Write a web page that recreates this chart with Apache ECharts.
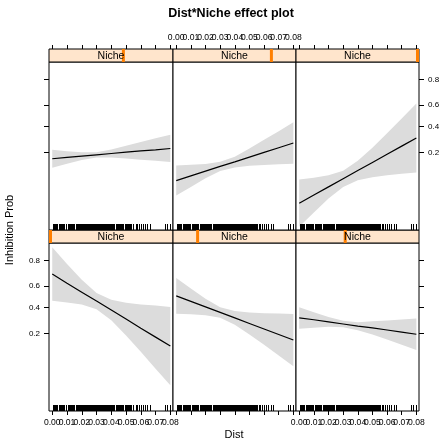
<!DOCTYPE html>
<html>
<head>
<meta charset="utf-8">
<script src="https://cdn.jsdelivr.net/npm/echarts@6/dist/echarts.min.js"></script>
<style>
  html, body { margin: 0; padding: 0; background: #fff; }
  #chart { width: 443px; height: 448px; }
</style>
</head>
<body>
<div id="chart"></div>
<script>
// Dist values at which the effect is evaluated
const distGrid = [0, 0.01, 0.02, 0.03, 0.04, 0.05, 0.06, 0.07, 0.08];

// Fitted effect and 95% band on the logit (link) scale, one set per Niche level
const fit1   = [0.87, 0.52, 0.18, -0.16, -0.50, -0.84, -1.19, -1.53, -1.87];
const lower1 = [-0.15, -0.21, -0.29, -0.47, -0.89, -1.47, -2.09, -2.73, -3.36];
const upper1 = [1.89, 1.25, 0.65, 0.15, -0.11, -0.22, -0.29, -0.33, -0.38];

const fit2   = [0.04, -0.17, -0.38, -0.59, -0.80, -1.01, -1.22, -1.43, -1.64];
const lower2 = [-0.64, -0.66, -0.70, -0.79, -1.06, -1.43, -1.82, -2.23, -2.64];
const upper2 = [0.72, 0.32, -0.07, -0.39, -0.54, -0.59, -0.62, -0.63, -0.65];

const fit3   = [-0.80, -0.87, -0.95, -1.03, -1.11, -1.18, -1.26, -1.34, -1.42];
const lower3 = [-1.21, -1.17, -1.14, -1.15, -1.27, -1.43, -1.62, -1.82, -2.02];
const upper3 = [-0.39, -0.58, -0.76, -0.91, -0.96, -0.93, -0.90, -0.86, -0.82];

const fit4   = [-1.63, -1.58, -1.53, -1.48, -1.43, -1.38, -1.33, -1.29, -1.24];
const lower4 = [-1.97, -1.82, -1.68, -1.58, -1.58, -1.62, -1.67, -1.71, -1.75];
const upper4 = [-1.29, -1.34, -1.38, -1.38, -1.28, -1.14, -0.99, -0.85, -0.72];

const fit5   = [-2.46, -2.28, -2.10, -1.92, -1.75, -1.57, -1.39, -1.21, -1.03];
const lower5 = [-3.03, -2.70, -2.37, -2.10, -1.96, -1.90, -1.87, -1.84, -1.82];
const upper5 = [-1.89, -1.86, -1.83, -1.74, -1.55, -1.24, -0.91, -0.58, -0.24];

const fit6   = [-3.32, -3.01, -2.70, -2.39, -2.08, -1.77, -1.46, -1.15, -0.84];
const lower6 = [-4.22, -3.67, -3.14, -2.70, -2.45, -2.33, -2.26, -2.20, -2.15];
const upper6 = [-2.42, -2.35, -2.26, -2.09, -1.71, -1.21, -0.66, -0.10, 0.47];

// Niche level of each panel, as a fraction of the Niche range (shown in the strip)
const nicheLevels = [0, 0.2, 0.4, 0.6, 0.8, 1.0];

// Observed Dist values (rug)
const distRug = [0.0005, 0.001, 0.002, 0.0025, 0.003, 0.0035, 0.0045, 0.005, 0.006, 0.0065,
  0.0075, 0.008, 0.009, 0.0095, 0.0105, 0.011, 0.0115, 0.012, 0.0125, 0.013, 0.0135, 0.014,
  0.0145, 0.015, 0.016, 0.0165, 0.017, 0.0175, 0.018, 0.0185, 0.019, 0.0195, 0.020, 0.0205,
  0.021, 0.0215, 0.022, 0.0225, 0.023, 0.0235, 0.024, 0.025, 0.0255, 0.026, 0.0265, 0.027,
  0.0275, 0.028, 0.0285, 0.029, 0.0295, 0.030, 0.0305, 0.031, 0.0315, 0.032, 0.0325, 0.033,
  0.034, 0.0345, 0.035, 0.0355, 0.036, 0.0365, 0.037, 0.0375, 0.038, 0.0385, 0.039, 0.0395,
  0.040, 0.0405, 0.041, 0.0415, 0.042, 0.043, 0.0435, 0.044, 0.0445, 0.045, 0.0455, 0.046,
  0.0465, 0.047, 0.0475, 0.048, 0.049, 0.0495, 0.050, 0.0505, 0.051, 0.0515, 0.052, 0.0525,
  0.053, 0.0535, 0.0545, 0.055, 0.0565, 0.0575, 0.0585, 0.060, 0.0615, 0.063, 0.0645, 0.066,
  0.0765, 0.0775, 0.0795];

// Axis ticks
const distTicks = [0, 0.01, 0.02, 0.03, 0.04, 0.05, 0.06, 0.07, 0.08];
const probTicks = [0.2, 0.4, 0.6, 0.8];

const fits = [fit1, fit2, fit3, fit4, fit5, fit6];
const lowers = [lower1, lower2, lower3, lower4, lower5, lower6];
const uppers = [upper1, upper2, upper3, upper4, upper5, upper6];

const FONT = '"Liberation Sans", Arial, Helvetica, sans-serif';
const logit = p => Math.log(p / (1 - p));
const invLogit = v => 1 / (1 + Math.exp(-v));

// Panel layout (lattice style: panel 1 is bottom-left)
const colLeft = [49, 173, 296];
const colWidth = [124, 123, 123];
const stripTop = [230, 49];   // bottom row, top row
const stripH = 13;
const plotH = 168;
const X_MIN = -0.0022, X_MAX = 0.0818;
const Y_MIN = -4.34, Y_MAX = 2.05;
const yTickVals = probTicks.map(logit);
// Dist tick labels are split over two axes so that neighbouring labels may touch
const evenTicks = distTicks.filter((d, k) => k % 2 === 0);
const oddTicks = distTicks.filter((d, k) => k % 2 === 1);

const grid = [], xAxis = [], yAxis = [], series = [], graphic = [];

for (let i = 0; i < 6; i++) {
  const row = i < 3 ? 0 : 1;        // 0 = bottom, 1 = top
  const col = i % 3;
  const left = colLeft[col], width = colWidth[col];
  const sTop = stripTop[row];

  // plot panel
  const gMain = grid.length;
  grid.push({ left: left, top: sTop + stripH, width: width, height: plotH,
    show: true, borderColor: '#000', borderWidth: 1, backgroundColor: '#fff' });
  // strip
  const gStrip = grid.length;
  grid.push({ left: left, top: sTop, width: width, height: stripH,
    show: true, borderColor: '#000', borderWidth: 1, backgroundColor: '#ffe5cc' });

  const showXLabel = row === 0 ? col !== 1 : col === 1;
  const xBase = {
    type: 'value', gridIndex: gMain, min: X_MIN, max: X_MAX,
    position: row === 0 ? 'bottom' : 'top',
    offset: row === 0 ? 0 : stripH,
    axisLine: { show: false, onZero: false }, splitLine: { show: false }
  };
  const xLabel = vals => ({ show: showXLabel, customValues: vals, margin: 7,
    showMinLabel: true, showMaxLabel: true,
    formatter: v => v.toFixed(2), fontSize: 8.6, color: '#000', fontFamily: FONT });
  const xMain = xAxis.length;
  xAxis.push(Object.assign({}, xBase, {
    axisTick: { show: true, inside: false, length: 4, customValues: distTicks,
      lineStyle: { color: '#000', width: 1 } },
    axisLabel: xLabel(evenTicks)
  }));
  xAxis.push(Object.assign({}, xBase, {
    axisTick: { show: false },
    axisLabel: xLabel(oddTicks)
  }));
  const xStrip = xAxis.length;
  xAxis.push({ type: 'value', gridIndex: gStrip, min: 0, max: 1, show: false });

  const yMain = yAxis.length;
  const hasY = col !== 1;
  const showYLabel = (col === 0 && row === 0) || (col === 2 && row === 1);
  yAxis.push({
    type: 'value', gridIndex: gMain, min: Y_MIN, max: Y_MAX,
    position: col === 2 ? 'right' : 'left',
    axisLine: { show: false, onZero: false }, splitLine: { show: false },
    axisTick: { show: hasY, inside: false, length: 5, customValues: yTickVals,
      lineStyle: { color: '#000', width: 1 } },
    axisLabel: { show: showYLabel, customValues: yTickVals, margin: 9,
      showMinLabel: true, showMaxLabel: true,
      formatter: v => invLogit(v).toFixed(1), fontSize: 8, color: '#000', fontFamily: FONT }
  });
  const yStrip = yAxis.length;
  yAxis.push({ type: 'value', gridIndex: gStrip, min: 0, max: 1, show: false });

  const fit = fits[i], lower = lowers[i], upper = uppers[i];

  // confidence band
  series.push({
    type: 'custom', xAxisIndex: xMain, yAxisIndex: yMain, silent: true, z: 1,
    data: [[distGrid[0], fit[0]]],
    renderItem: (params, api) => {
      const pts = [];
      for (let j = 0; j < distGrid.length; j++) pts.push(api.coord([distGrid[j], upper[j]]));
      for (let j = distGrid.length - 1; j >= 0; j--) pts.push(api.coord([distGrid[j], lower[j]]));
      return { type: 'polygon', shape: { points: pts }, style: { fill: '#dcdcdc' } };
    }
  });
  // fitted line
  series.push({
    type: 'line', xAxisIndex: xMain, yAxisIndex: yMain, silent: true, z: 3,
    data: distGrid.map((d, j) => [d, fit[j]]),
    symbol: 'none', lineStyle: { color: '#000', width: 1.2 }
  });
  // rug of observed Dist
  series.push({
    type: 'custom', xAxisIndex: xMain, yAxisIndex: yMain, silent: true, z: 4,
    data: distRug.map(d => [d, Y_MIN]),
    renderItem: (params, api) => {
      const p = api.coord([api.value(0), api.value(1)]);
      const x = Math.round(p[0]) + 0.5;
      return { type: 'line', shape: { x1: x, y1: p[1], x2: x, y2: p[1] - 6 },
        style: { stroke: '#000', lineWidth: 1 } };
    }
  });
  // Niche level marker in the strip
  series.push({
    type: 'custom', xAxisIndex: xStrip, yAxisIndex: yStrip, silent: true, z: 2,
    data: [[nicheLevels[i], 0.5]],
    renderItem: (params, api) => {
      const cs = params.coordSys;
      const p = api.coord([api.value(0), api.value(1)]);
      const w = 3;
      const x0 = Math.max(cs.x, Math.min(cs.x + cs.width - w, p[0] - w / 2));
      return { type: 'rect', shape: { x: x0, y: cs.y, width: w, height: cs.height },
        style: { fill: '#ff7f00' } };
    }
  });

  graphic.push({
    type: 'text', x: left + width / 2, y: sTop + stripH / 2 + 0.5, z: 100,
    style: { text: 'Niche', textAlign: 'center', textVerticalAlign: 'middle',
      fontSize: 10.5, fontFamily: FONT, fill: '#000' }
  });
}

graphic.push({
  type: 'text', x: 231, y: 14, z: 100,
  style: { text: 'Dist*Niche effect plot', textAlign: 'center', textVerticalAlign: 'middle',
    fontSize: 12.5, fontWeight: 'bold', fontFamily: FONT, fill: '#000' }
});
graphic.push({
  type: 'text', x: 234, y: 435, z: 100,
  style: { text: 'Dist', textAlign: 'center', textVerticalAlign: 'middle',
    fontSize: 11, fontFamily: FONT, fill: '#000' }
});
graphic.push({
  type: 'text', x: 10, y: 230, rotation: Math.PI / 2, z: 100,
  style: { text: 'Inhibition Prob', textAlign: 'center', textVerticalAlign: 'middle',
    fontSize: 11, fontFamily: FONT, fill: '#000' }
});

const chart = echarts.init(document.getElementById('chart'), null, { renderer: 'canvas' });
chart.setOption({
  animation: false,
  backgroundColor: '#fff',
  grid, xAxis, yAxis, series, graphic
});
</script>
</body>
</html>
